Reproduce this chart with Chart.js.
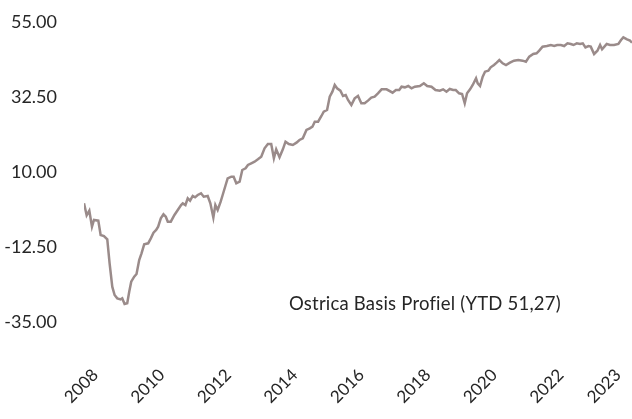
<!DOCTYPE html>
<html>
<head>
<meta charset="utf-8">
<script src="https://cdn.jsdelivr.net/npm/chart.js@4"></script>
<style>
  html, body { margin: 0; padding: 0; background: #fff; }
  #wrap { width: 632px; height: 419px; position: relative; }
</style>
</head>
<body>
<div id="wrap"><canvas id="chart"></canvas></div>
<script>
// decimal years
var dates = [2007.66, 2007.74, 2007.82, 2007.90, 2007.96, 2008.09, 2008.16, 2008.26, 2008.36, 2008.43,
  2008.51, 2008.58, 2008.66, 2008.76, 2008.81, 2008.88, 2008.96, 2009.02, 2009.08, 2009.17,
  2009.24, 2009.32, 2009.39, 2009.47, 2009.59, 2009.67, 2009.75, 2009.83, 2009.89, 2009.97,
  2010.05, 2010.12, 2010.18, 2010.27, 2010.38, 2010.48, 2010.58, 2010.63, 2010.71, 2010.78,
  2010.85, 2010.93, 2011.00, 2011.08, 2011.18, 2011.26, 2011.38, 2011.46, 2011.55, 2011.61,
  2011.68, 2011.77, 2011.83, 2011.92, 2011.98, 2012.09, 2012.16, 2012.24, 2012.34, 2012.42,
  2012.52, 2012.59, 2012.69, 2012.79, 2012.89, 2012.99, 2013.09, 2013.19, 2013.29, 2013.37,
  2013.44, 2013.54, 2013.64, 2013.72, 2013.82, 2013.94, 2014.05, 2014.14, 2014.24, 2014.35,
  2014.45, 2014.53, 2014.60, 2014.70, 2014.80, 2014.87, 2014.97, 2015.05, 2015.13, 2015.20,
  2015.27, 2015.37, 2015.45, 2015.53, 2015.60, 2015.70, 2015.80, 2015.90, 2016.00, 2016.10,
  2016.20, 2016.30, 2016.40, 2016.50, 2016.61, 2016.76, 2016.94, 2017.04, 2017.14, 2017.21,
  2017.31, 2017.41, 2017.51, 2017.61, 2017.76, 2017.88, 2017.98, 2018.11, 2018.23, 2018.36,
  2018.46, 2018.56, 2018.66, 2018.76, 2018.84, 2018.94, 2019.03, 2019.11, 2019.18, 2019.27,
  2019.35, 2019.45, 2019.50, 2019.57, 2019.65, 2019.72, 2019.82, 2019.89, 2019.99, 2020.07,
  2020.15, 2020.25, 2020.35, 2020.47, 2020.59, 2020.72, 2020.85, 2020.95, 2021.05, 2021.17,
  2021.27, 2021.35, 2021.45, 2021.58, 2021.70, 2021.80, 2021.89, 2022.00, 2022.10, 2022.20,
  2022.30, 2022.38, 2022.48, 2022.58, 2022.66, 2022.74, 2022.83, 2022.90, 2023.00, 2023.10,
  2023.18, 2023.24, 2023.31, 2023.38, 2023.48, 2023.60, 2023.73, 2023.81, 2023.88, 2023.99,
  2024.08, 2024.14];

var basisProfiel = [0.6, -3.0, -1.6, -6.4, -4.4, -4.6, -8.9, -9.2, -10.2, -17.4,
  -24.4, -26.9, -27.9, -28.2, -27.9, -29.6, -29.4, -25.9, -22.9, -21.4,
  -20.6, -16.4, -14.4, -11.7, -11.4, -9.9, -8.2, -7.4, -6.4, -3.9,
  -2.7, -3.4, -4.9, -4.9, -2.9, -1.4, 0.1, 0.6, 0.1, 2.1,
  1.4, 2.8, 2.4, 3.1, 3.6, 2.6, 2.8, 0.6, -3.7, 0.1,
  -1.4, 1.1, 3.1, 6.1, 8.1, 8.6, 8.6, 6.6, 7.1, 10.6,
  11.1, 12.1, 12.6, 13.1, 13.8, 14.6, 17.1, 18.4, 18.4, 14.1,
  16.8, 14.4, 16.8, 19.1, 18.4, 18.1, 18.8, 19.6, 20.1, 22.6,
  23.1, 23.6, 25.1, 25.1, 26.8, 28.1, 28.6, 32.6, 34.1, 36.1,
  35.1, 34.4, 32.8, 33.1, 31.6, 30.1, 32.1, 32.8, 30.6, 30.6,
  31.4, 32.3, 32.6, 33.6, 34.8, 34.8, 33.8, 34.6, 34.6, 35.6,
  35.4, 35.8, 35.1, 35.6, 35.8, 36.6, 35.8, 35.6, 34.6, 34.4,
  34.8, 34.1, 34.9, 34.6, 34.6, 33.6, 33.4, 30.6, 33.6, 34.8,
  36.1, 38.1, 36.6, 35.8, 38.6, 40.1, 40.4, 41.4, 42.1, 42.8,
  43.6, 42.6, 42.1, 42.8, 43.4, 43.6, 43.4, 43.1, 44.6, 45.4,
  45.6, 46.4, 47.6, 47.8, 48.1, 47.8, 48.1, 48.1, 47.8, 48.6,
  48.4, 48.1, 48.6, 48.4, 48.6, 47.4, 47.8, 47.6, 45.4, 46.4,
  48.1, 46.8, 47.6, 48.4, 48.1, 48.1, 48.4, 49.6, 50.4, 49.8,
  49.4, 48.8];

var xTickPos = [2008, 2010, 2012, 2014, 2016, 2018, 2020, 2022, 2023.72];
var xTickLabels = ['2008', '2010', '2012', '2014', '2016', '2018', '2020', '2022', '2023'];
var yTicks = [-35, -12.5, 10, 32.5, 55];
var seriesLabel = 'Ostrica Basis Profiel (YTD 51,27)';

var FONT = "'Century Gothic', Lato, 'DejaVu Sans', sans-serif";
var TEXT = '#262626';

var points = dates.map(function(d, i) { return { x: d, y: basisProfiel[i] }; });

// draws the series name inside the plot, lower right
var labelInPlot = {
  id: 'labelInPlot',
  afterDatasetsDraw: function(chart) {
    var a = chart.chartArea, ctx = chart.ctx;
    ctx.save();
    ctx.font = '18.5px ' + FONT;
    ctx.letterSpacing = '0.2px'; // also keeps "fi" from becoming a ligature
    ctx.fillStyle = TEXT;
    ctx.textAlign = 'left';
    ctx.textBaseline = 'middle';
    ctx.fillText(seriesLabel, a.left + 205, a.top + 282);
    ctx.restore();
  }
};

new Chart(document.getElementById('chart'), {
  type: 'line',
  data: { datasets: [{
    label: seriesLabel,
    data: points,
    borderColor: '#9a8b8a',
    borderWidth: 2.5,
    pointRadius: 0,
    tension: 0,
    fill: false
  }] },
  options: {
    responsive: true, maintainAspectRatio: false, animation: false,
    layout: { padding: { top: 22, right: 0, left: 0, bottom: 0 } },
    plugins: { legend: { display: false }, tooltip: { enabled: false } },
    scales: {
      x: {
        type: 'linear',
        min: dates[0], max: dates[dates.length - 1],
        grid: { display: false, drawTicks: false }, border: { display: false },
        afterBuildTicks: function(s) { s.ticks = xTickPos.map(function(v) { return { value: v }; }); },
        // big tick padding would otherwise eat into the right edge
        afterFit: function(s) { s.height = 97; s.paddingLeft = 0; s.paddingRight = 0; },
        ticks: {
          autoSkip: false, maxRotation: 45, minRotation: 45, padding: 43,
          color: TEXT, font: { family: FONT, size: 17 },
          callback: function(v) { return xTickLabels[xTickPos.indexOf(v)]; }
        }
      },
      y: {
        min: -35, max: 55,
        grid: { display: false, drawTicks: false }, border: { display: false },
        afterBuildTicks: function(s) { s.ticks = yTicks.map(function(v) { return { value: v }; }); },
        afterFit: function(s) { s.width = 84; s.paddingTop = 0; s.paddingBottom = 0; },
        ticks: {
          padding: 27, color: TEXT, font: { family: FONT, size: 18 },
          callback: function(v) { return v.toFixed(2); }
        }
      }
    }
  },
  plugins: [labelInPlot]
});
</script>
</body>
</html>
